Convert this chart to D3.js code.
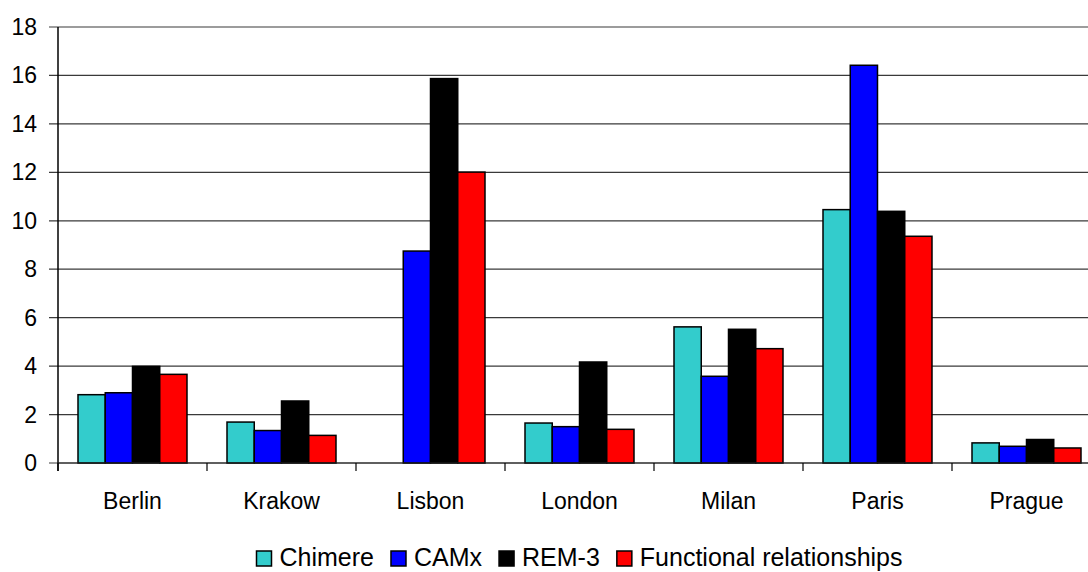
<!DOCTYPE html>
<html>
<head>
<meta charset="utf-8">
<script src="https://cdn.jsdelivr.net/npm/d3@7"></script>
<style>
  html, body { margin: 0; padding: 0; background: #fff; }
  svg { display: block; font-family: "Liberation Sans", Arial, sans-serif; }
</style>
</head>
<body>
<svg id="chart" width="1088" height="572"></svg>
<script>
// Cities along the x axis
const cities = ["Berlin", "Krakow", "Lisbon", "London", "Milan", "Paris", "Prague"];

// Model series
const seriesNames = ["Chimere", "CAMx", "REM-3", "Functional relationships"];
const seriesColors = ["#33CCCC", "#0000FF", "#000000", "#FF0000"];

const chimere    = [2.82, 1.69, 0.00, 1.65, 5.62, 10.46, 0.83];
const camx       = [2.90, 1.34, 8.75, 1.50, 3.58, 16.42, 0.69];
const rem3       = [3.99, 2.56, 15.87, 4.17, 5.52, 10.39, 0.97];
const functional = [3.66, 1.14, 12.01, 1.39, 4.72, 9.36, 0.62];

const yTicks = [0, 2, 4, 6, 8, 10, 12, 14, 16, 18];

const seriesValues = [chimere, camx, rem3, functional];

const svg = d3.select("#chart");
const W = 1088;

const plotLeft = 58, plotRight = 1101, plotTop = 27, plotBottom = 463;

const x0 = d3.scaleBand().domain(cities).range([plotLeft, plotRight]).paddingInner(0).paddingOuter(0);
const x1 = d3.scaleBand().domain(seriesNames).range([0, x0.bandwidth()])
  .paddingInner(0).paddingOuter(0.734);
const y = d3.scaleLinear().domain([0, 18]).range([plotBottom, plotTop]);

// Horizontal gridlines with left tick marks
const grid = svg.append("g");
grid.selectAll("line").data(yTicks).join("line")
  .attr("x1", plotLeft - 9).attr("x2", W)
  .attr("y1", d => y(d)).attr("y2", d => y(d))
  .attr("stroke", "#3a3a3a").attr("stroke-width", 1.2);

// Y tick labels
svg.append("g").selectAll("text").data(yTicks).join("text")
  .attr("x", 37).attr("y", d => y(d))
  .attr("text-anchor", "end").attr("dominant-baseline", "central")
  .attr("font-size", 23).attr("fill", "#000")
  .text(d => d);

// Bars
const groups = svg.append("g").selectAll("g").data(cities).join("g")
  .attr("transform", d => `translate(${x0(d)},0)`);

groups.selectAll("rect")
  .data((c, i) => seriesNames.map((s, k) => ({ s, k, v: seriesValues[k][i] })).filter(d => d.v > 0))
  .join("rect")
  .attr("x", d => x1(d.s))
  .attr("width", x1.bandwidth())
  .attr("y", d => y(d.v))
  .attr("height", d => y(0) - y(d.v))
  .attr("fill", d => seriesColors[d.k])
  .attr("stroke", "#000").attr("stroke-width", 1.5);

// Axis lines
svg.append("line").attr("x1", plotLeft).attr("x2", plotLeft).attr("y1", plotTop).attr("y2", plotBottom + 8)
  .attr("stroke", "#000").attr("stroke-width", 1.5);
svg.append("line").attr("x1", plotLeft).attr("x2", W).attr("y1", plotBottom).attr("y2", plotBottom)
  .attr("stroke", "#222").attr("stroke-width", 1.2);

// Category tick marks at band boundaries
const boundaries = cities.map(c => x0(c)).concat([plotRight]);
svg.append("g").selectAll("line").data(boundaries).join("line")
  .attr("x1", d => d).attr("x2", d => d)
  .attr("y1", plotBottom).attr("y2", plotBottom + 8)
  .attr("stroke", "#000").attr("stroke-width", 1.2);

// Category labels
svg.append("g").selectAll("text").data(cities).join("text")
  .attr("x", d => x0(d) + x0.bandwidth() / 2)
  .attr("y", 509)
  .attr("text-anchor", "middle")
  .attr("font-size", 23).attr("fill", "#000")
  .text(d => d);

// Legend, centred under the plot area
const legend = svg.append("g");
const box = 15, gapBox = 8, gapItem = 17;
const items = legend.selectAll("g").data(seriesNames).join("g");
items.append("rect")
  .attr("width", box).attr("height", box)
  .attr("y", 551)
  .attr("fill", (d, i) => seriesColors[i])
  .attr("stroke", "#000").attr("stroke-width", 1.5);
items.append("text")
  .attr("x", box + gapBox).attr("y", 566)
  .attr("font-size", 25).attr("fill", "#000")
  .text(d => d);

let widths = [];
items.each(function () {
  widths.push(box + gapBox + d3.select(this).select("text").node().getComputedTextLength());
});
const total = d3.sum(widths) + gapItem * (widths.length - 1);
let cx = (plotLeft + plotRight) / 2 - total / 2;
items.attr("transform", (d, i) => {
  const t = `translate(${cx},0)`;
  cx += widths[i] + gapItem;
  return t;
});
</script>
</body>
</html>
